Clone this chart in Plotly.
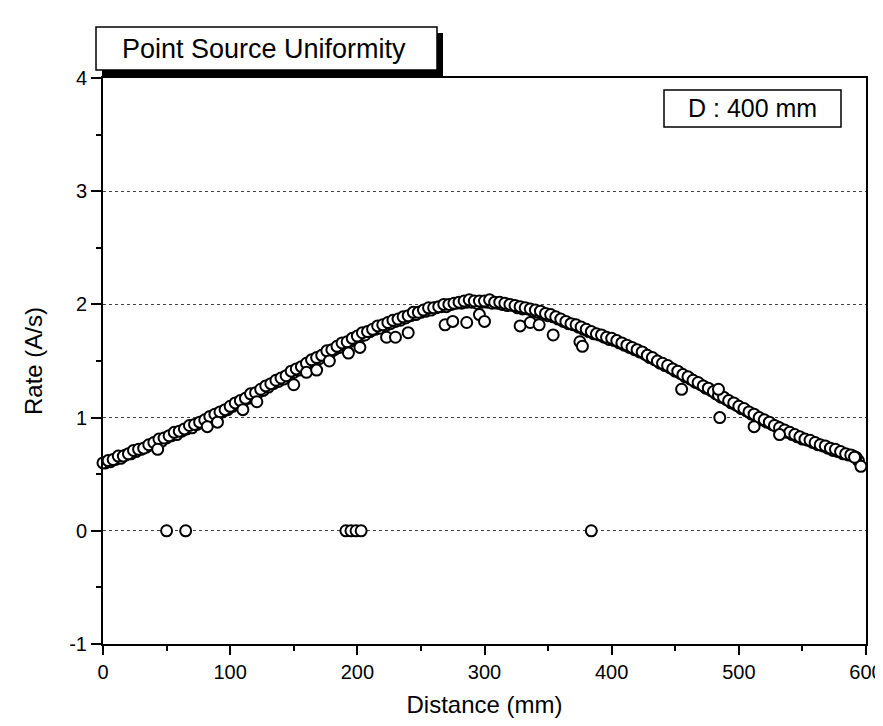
import plotly.graph_objects as go

# Main measured profile (Distance in mm, Rate in A/s)
dist_main = [0, 4, 8, 12, 16, 20, 24, 28, 32, 36, 40, 44, 48, 52, 56, 60, 64, 68, 72, 76,
             80, 84, 88, 92, 96, 100, 104, 108, 112, 116, 120, 124, 128, 132, 136, 140, 144, 148, 152, 156,
             160, 164, 168, 172, 176, 180, 184, 188, 192, 196, 200, 204, 208, 212, 216, 220, 224, 228, 232, 236,
             240, 244, 248, 252, 256, 260, 264, 268, 272, 276, 280, 284, 288, 292, 296, 300, 304, 308, 312, 316,
             320, 324, 328, 332, 336, 340, 344, 348, 352, 356, 360, 364, 368, 372, 376, 380, 384, 388, 392, 396,
             400, 404, 408, 412, 416, 420, 424, 428, 432, 436, 440, 444, 448, 452, 456, 460, 464, 468, 472, 476,
             480, 484, 488, 492, 496, 500, 504, 508, 512, 516, 520, 524, 528, 532, 536, 540, 544, 548, 552, 556,
             560, 564, 568, 572, 576, 580, 584, 588, 592, 596]
rate_main = [0.60, 0.62, 0.63, 0.66, 0.66, 0.68, 0.71, 0.72, 0.73, 0.76, 0.78, 0.81, 0.82, 0.84, 0.87, 0.88, 0.90, 0.93, 0.94, 0.96,
             0.98, 1.01, 1.03, 1.05, 1.07, 1.10, 1.13, 1.15, 1.17, 1.21, 1.22, 1.25, 1.28, 1.30, 1.33, 1.35, 1.37, 1.41, 1.43, 1.45,
             1.48, 1.51, 1.53, 1.55, 1.59, 1.60, 1.63, 1.66, 1.67, 1.70, 1.72, 1.75, 1.76, 1.78, 1.81, 1.82, 1.84, 1.86, 1.87, 1.89,
             1.90, 1.93, 1.93, 1.95, 1.97, 1.97, 1.98, 2.00, 2.00, 2.01, 2.02, 2.03, 2.04, 2.03, 2.03, 2.03, 2.04, 2.02, 2.02, 2.01,
             2.00, 1.99, 1.98, 1.97, 1.96, 1.95, 1.94, 1.92, 1.91, 1.89, 1.87, 1.85, 1.83, 1.82, 1.80, 1.78, 1.76, 1.74, 1.73, 1.71,
             1.70, 1.68, 1.66, 1.64, 1.62, 1.60, 1.58, 1.55, 1.53, 1.50, 1.48, 1.46, 1.43, 1.41, 1.38, 1.36, 1.33, 1.31, 1.28, 1.26,
             1.23, 1.20, 1.18, 1.15, 1.13, 1.10, 1.08, 1.05, 1.03, 1.00, 0.98, 0.96, 0.93, 0.91, 0.89, 0.87, 0.85, 0.83, 0.81, 0.80,
             0.78, 0.76, 0.75, 0.73, 0.72, 0.70, 0.68, 0.67, 0.65, 0.57]

# In-between readings of the main profile (second pass)
dist_mid = [2, 6, 10, 14, 18, 22, 26, 30, 34, 38, 42, 46, 50, 54, 58, 62, 66, 70, 74, 78,
            82, 86, 90, 94, 98, 102, 106, 110, 114, 118, 122, 126, 130, 134, 138, 142, 146, 150, 154, 158,
            162, 166, 170, 174, 178, 182, 186, 190, 194, 198, 202, 206, 210, 214, 218, 222, 226, 230, 234, 238,
            242, 246, 250, 254, 258, 262, 266, 270, 274, 278, 282, 286, 290, 294, 298, 302, 306, 310, 314, 318,
            322, 326, 330, 334, 338, 342, 346, 350, 354, 358, 362, 366, 370, 374, 378, 382, 386, 390, 394, 398,
            402, 406, 410, 414, 418, 422, 426, 430, 434, 438, 442, 446, 450, 454, 458, 462, 466, 470, 474, 478,
            482, 486, 490, 494, 498, 502, 506, 510, 514, 518, 522, 526, 530, 534, 538, 542, 546, 550, 554, 558,
            562, 566, 570, 574, 578, 582, 586, 590, 594]
rate_mid = [0.60, 0.61, 0.63, 0.64, 0.67, 0.68, 0.70, 0.72, 0.74, 0.76, 0.78, 0.79, 0.82, 0.84, 0.85, 0.88, 0.90, 0.91, 0.94, 0.96,
            0.98, 1.00, 1.02, 1.05, 1.07, 1.10, 1.12, 1.14, 1.17, 1.19, 1.22, 1.24, 1.27, 1.30, 1.32, 1.34, 1.37, 1.40, 1.42, 1.45,
            1.47, 1.50, 1.52, 1.55, 1.56, 1.60, 1.62, 1.64, 1.67, 1.69, 1.71, 1.73, 1.76, 1.78, 1.79, 1.81, 1.83, 1.85, 1.86, 1.88,
            1.90, 1.91, 1.93, 1.94, 1.95, 1.97, 1.98, 1.98, 2.00, 2.01, 2.01, 2.02, 2.02, 2.01, 2.02, 2.02, 2.01, 2.01, 2.00, 1.99,
            1.99, 1.97, 1.96, 1.96, 1.94, 1.93, 1.92, 1.90, 1.89, 1.87, 1.85, 1.83, 1.82, 1.80, 1.78, 1.76, 1.74, 1.73, 1.71, 1.69,
            1.68, 1.66, 1.64, 1.62, 1.60, 1.58, 1.56, 1.53, 1.51, 1.48, 1.46, 1.44, 1.41, 1.39, 1.36, 1.34, 1.31, 1.29, 1.26, 1.24,
            1.21, 1.18, 1.16, 1.13, 1.11, 1.08, 1.06, 1.03, 1.01, 0.98, 0.96, 0.94, 0.92, 0.89, 0.87, 0.85, 0.83, 0.81, 0.80, 0.78,
            0.76, 0.75, 0.73, 0.71, 0.70, 0.68, 0.67, 0.66, 0.62]

# Scattered low readings below the main profile
dist_low = [43, 82, 90, 110, 121, 150, 160, 168, 178, 193, 202, 223, 230, 240,
            269, 275, 286, 296, 300, 328, 336, 343, 354, 375, 377, 455, 484, 485, 512, 532, 591]
rate_low = [0.72, 0.92, 0.96, 1.07, 1.14, 1.29, 1.40, 1.42, 1.50, 1.57, 1.62, 1.71, 1.71, 1.75,
            1.82, 1.85, 1.84, 1.91, 1.85, 1.81, 1.84, 1.82, 1.73, 1.67, 1.63, 1.25, 1.25, 1.00, 0.92, 0.85, 0.65]

# Dropout readings (zero rate)
dist_zero = [50, 65, 191, 195, 199, 203, 384]
rate_zero = [0, 0, 0, 0, 0, 0, 0]

x_ticks = [0, 100, 200, 300, 400, 500, 600]
y_ticks = [-1, 0, 1, 2, 3, 4]

dist_all = dist_mid + dist_main + dist_low + dist_zero
rate_all = rate_mid + rate_main + rate_low + rate_zero

fig = go.Figure()
fig.add_trace(go.Scatter(
    x=dist_all, y=rate_all, mode="markers",
    marker=dict(symbol="circle", size=11, color="white",
                line=dict(color="black", width=2)),
    showlegend=False, hoverinfo="x+y", cliponaxis=False))

# page has an 8px body margin; the figure is sized to fill the window from there
OFF = 8
FW, FH = 875, 710
# plot area in page pixels: left 103, right 866, top 78, bottom 644
L, R, T, B = 103, 866, 78, 644
def px(x):
    return (x - L) / (R - L)
def py(y):
    return (B - y) / (B - T)

FONT = "Arial, Liberation Sans, sans-serif"

shapes = [
    # title box shadow
    dict(type="rect", xref="paper", yref="paper", x0=px(102), x1=px(443), y0=py(76), y1=py(33),
         fillcolor="black", line=dict(width=0), layer="above"),
    # title box
    dict(type="rect", xref="paper", yref="paper", x0=px(96), x1=px(437), y0=py(70), y1=py(27),
         fillcolor="white", line=dict(color="black", width=1.5), layer="above"),
    # D box
    dict(type="rect", xref="paper", yref="paper", x0=px(664), x1=px(841), y0=py(127), y1=py(90),
         fillcolor="white", line=dict(color="black", width=1.5), layer="above"),
]

annotations = [
    dict(text="Point Source Uniformity", xref="paper", yref="paper", x=px(264), y=py(49),
         xanchor="center", yanchor="middle",
         showarrow=False, font=dict(family=FONT, size=27, color="black")),
    dict(text="D : 400 mm", xref="paper", yref="paper", x=px(752), y=py(108),
         xanchor="center", yanchor="middle",
         showarrow=False, font=dict(family=FONT, size=25, color="black")),
]

fig.update_layout(
    width=FW, height=FH,
    margin=dict(l=L - OFF, r=FW - (R - OFF), t=T - OFF, b=FH - (B - OFF), autoexpand=False),
    paper_bgcolor="white", plot_bgcolor="white",
    font=dict(family=FONT, size=16, color="black"),
    shapes=shapes, annotations=annotations,
)

fig.update_xaxes(
    range=[0, 600], tickvals=x_ticks, ticktext=[str(v) for v in x_ticks],
    showline=True, linecolor="black", linewidth=2, mirror=True,
    ticks="outside", ticklen=9, tickwidth=2, tickcolor="black",
    minor=dict(dtick=50, ticks="outside", ticklen=5, tickwidth=2, tickcolor="black"),
    showgrid=False, zeroline=False, automargin=False,
    ticklabeloverflow="allow",
    tickfont=dict(size=20),
    title=dict(text="Distance (mm)", font=dict(size=24), standoff=14),
)
fig.update_yaxes(
    range=[-1, 4], tickvals=y_ticks, ticktext=[str(v) for v in y_ticks],
    showline=True, linecolor="black", linewidth=2, mirror=True,
    ticks="outside", ticklen=10, tickwidth=2, tickcolor="black",
    minor=dict(dtick=0.5, ticks="outside", ticklen=5, tickwidth=2, tickcolor="black", showgrid=False),
    showgrid=True, gridcolor="#444444", gridwidth=1, griddash="dot",
    zeroline=False, automargin=False,
    tickfont=dict(size=20),
    title=dict(text="Rate (A/s)", font=dict(size=24), standoff=20),
)

fig.write_html("out.html")
